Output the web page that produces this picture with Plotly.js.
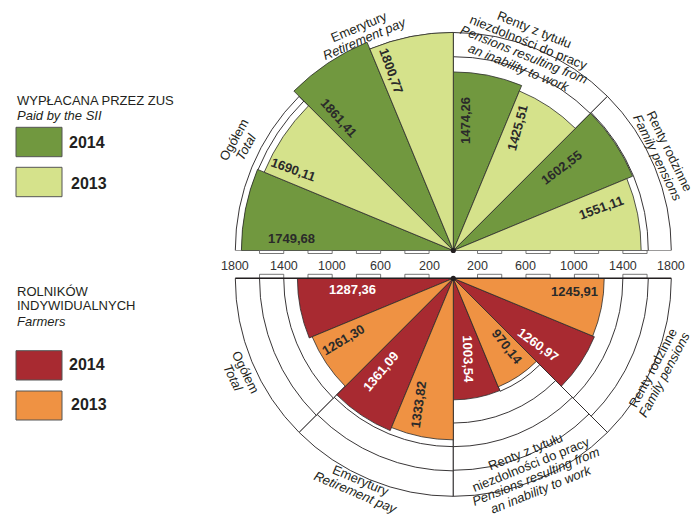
<!DOCTYPE html>
<html>
<head>
<meta charset="utf-8">
<script src="https://cdn.plot.ly/plotly-3.0.1.min.js"></script>
<style>html,body{margin:0;padding:0;background:#fff}#chart{width:696px;height:518px}</style>
</head>
<body>
<div id="chart"></div>
<script>
// ---------- data ----------
const categoriesPl = ['Ogółem', 'Emerytury', 'Renty z tytułu<br>niezdolności do pracy', 'Renty rodzinne'];
const categoriesEn = ['Total', 'Retirement pay', 'Pensions resulting from<br>an inability to work', 'Family pensions'];
const years = ['2014', '2013'];
const zus2014 = [1749.68, 1861.41, 1474.26, 1602.55];
const zus2013 = [1690.11, 1800.77, 1425.51, 1551.11];
const farm2014 = [1287.36, 1361.09, 1003.54, 1260.97];
const farm2013 = [1261.30, 1333.82, 970.14, 1245.91];
const tickValues = [200, 600, 1000, 1400, 1800];
const rulerBands = [[200, 400], [600, 800], [1000, 1200], [1400, 1600]];
// decorative guide rings per category (outer first)
const ringsTop = [[1800, 1745], [1800], [1800, 1600], [1800, 1610]];
const ringsBottom = [[1800, 1600, 1400], [1800, 1590, 1390], [1800, 1585, 1390, 1195], [1800, 1610, 1400]];

// ---------- geometry / style ----------
const W = 696, H = 518;
const PX = 218 / 1800;          // pixels per unit
const RMAX = 1870;
const R = RMAX * PX;
const CX = 453.3, CYT = 250.5, CYB = 278.3;
const FONT = 'Liberation Sans, Arial, sans-serif';
const INK = '#231f20';
const C = {zus14: '#71983f', zus13: '#d5e28b', farm14: '#a82a31', farm13: '#ef9243'};
const LS = 13.6; // category label line spacing (px)

const thetaTop = (i, k) => 180 - 45 * i - 11.25 - 22.5 * k;
const thetaBot = (i, k) => 180 + 45 * i + 11.25 + 22.5 * k;

function ringTrace(rings, centerFn, subplot, extra) {
  let items = [];
  rings.forEach((list, i) => list.forEach(r => items.push({r: r, t: centerFn(i), w: 45})));
  (extra || []).forEach(e => items.push(e));
  items.sort((a, b) => b.r - a.r);
  return {
    type: 'barpolar', subplot: subplot,
    r: items.map(d => d.r), theta: items.map(d => d.t), width: items.map(d => d.w),
    marker: {color: '#ffffff', line: {color: INK, width: 0.9}},
    hoverinfo: 'skip', showlegend: false
  };
}
function barTrace(vals, thetaFn, k, color, subplot) {
  return {
    type: 'barpolar', subplot: subplot,
    r: vals, theta: vals.map((v, i) => thetaFn(i, k)), width: vals.map(() => 22.5),
    marker: {color: color, line: {color: '#2b2b2b', width: 0.8}},
    hoverinfo: 'skip', showlegend: false
  };
}

const traces = [
  {type: 'scatter', x: [], y: [], xaxis: 'x', yaxis: 'y', hoverinfo: 'skip', showlegend: false},
  {type: 'scatter', x: [], y: [], xaxis: 'x', yaxis: 'y2', hoverinfo: 'skip', showlegend: false},
  ringTrace(ringsTop, i => 157.5 - 45 * i, 'polar'),
  ringTrace(ringsBottom, i => 202.5 + 45 * i, 'polar2', [{r: 1010, t: thetaBot(2, 1), w: 22.5}]),
  barTrace(zus2014, thetaTop, 0, C.zus14, 'polar'),
  barTrace(zus2013, thetaTop, 1, C.zus13, 'polar'),
  barTrace(farm2014, thetaBot, 0, C.farm14, 'polar2'),
  barTrace(farm2013, thetaBot, 1, C.farm13, 'polar2')
];

// ---------- annotations ----------
const ann = [];
const fmt = v => v.toFixed(2).replace('.', ',');
function polarAnn(text, rpx, ang, ta, yref, font, offPx) {
  const a = ang * Math.PI / 180;
  let xu = rpx / PX * Math.cos(a), yu = rpx / PX * Math.sin(a);
  if (offPx) { xu += offPx[0] / PX; yu -= offPx[1] / PX; }
  ann.push({xref: 'x', yref: yref, x: xu, y: yu, text: text,
    showarrow: false, textangle: ta, font: font, xanchor: 'center', yanchor: 'middle'});
}
const valFont = col => ({family: FONT, size: 13, color: col});
// value label placement [r px, angle, textangle]
const posZus14 = [[162.3, 175.6, 0], [175.6, 131.0, 48], [131.0, 84.9, -90], [136.4, 37.5, -37]];
const posZus13 = [[179.4, 153.3, 20], [189.7, 108.9, 70], [138.0, 62.5, -75], [154.3, 16.2, -20]];
const posFarm14 = [[101.5, 186.6, 0], [117.9, 231.9, -50], [81.9, 280.0, 88], [107.2, 322.2, 36]];
const posFarm13 = [[125.5, 209.4, -31], [130.9, 254.6, -82], [87.8, 308.5, 52], [122.4, 353.8, 0]];
zus2014.forEach((v, i) => polarAnn('<b>' + fmt(v) + '</b>', posZus14[i][0], posZus14[i][1], posZus14[i][2], 'y', valFont('#2a2a2a')));
zus2013.forEach((v, i) => polarAnn('<b>' + fmt(v) + '</b>', posZus13[i][0], posZus13[i][1], posZus13[i][2], 'y', valFont('#2a2a2a')));
farm2014.forEach((v, i) => polarAnn('<b>' + fmt(v) + '</b>', posFarm14[i][0], posFarm14[i][1], posFarm14[i][2], 'y2', valFont('#ffffff')));
farm2013.forEach((v, i) => polarAnn('<b>' + fmt(v) + '</b>', posFarm13[i][0], posFarm13[i][1], posFarm13[i][2], 'y2', valFont('#2a2a2a')));

// category labels, one annotation per line
const catFont = {family: FONT, size: 13, color: INK};
const catTop = [[239, 153.2, -61], [236.4, 112.7, -23], [214.9, 70.1, 22], [231.5, 24.6, 64]];
const catBot = [[234.4, 204.4, 64], [229, 245.5, 23], [208, 292.6, -22], [225, 335.6, -62]];
function catLabel(i, pos, yref) {
  const lines = categoriesPl[i].split('<br>').concat(categoriesEn[i].split('<br>').map(s => '<i>' + s + '</i>'));
  const n = lines.length, ta = pos[2] * Math.PI / 180;
  lines.forEach((txt, k) => {
    const d = (k - (n - 1) / 2) * LS;
    polarAnn(txt, pos[0], pos[1], pos[2], yref, catFont, [-Math.sin(ta) * d, Math.cos(ta) * d]);
  });
}
categoriesPl.forEach((pl, i) => { catLabel(i, catTop[i], 'y'); catLabel(i, catBot[i], 'y2'); });

// radial scale labels
tickValues.forEach(v => {
  [-1, 1].forEach(s => ann.push({xref: 'x', yref: 'y', x: s * v, y: -(266 - CYT) / PX, text: String(v),
    showarrow: false, font: {family: FONT, size: 12.5, color: '#333'}, xanchor: 'center', yanchor: 'middle'}));
});

// legend texts
const px2x = p => p / W, py2y = p => (H - p) / H;
function legText(text, x, y, size) {
  ann.push({xref: 'paper', yref: 'paper', x: px2x(x), y: py2y(y), text: text, showarrow: false,
    xanchor: 'left', yanchor: 'middle', font: {family: FONT, size: size, color: INK}});
}
legText('WYPŁACANA PRZEZ ZUS', 15, 100.5, 13);
legText('<i>Paid by the SII</i>', 15, 115.5, 13);
legText('<b>' + years[0] + '</b>', 67, 142.5, 16);
legText('<b>' + years[1] + '</b>', 69, 183.3, 16);
legText('ROLNIKÓW', 15, 291, 13);
legText('INDYWIDUALNYCH', 15, 306, 13);
legText('<i>Farmers</i>', 15, 321, 13);
legText('<b>' + years[0] + '</b>', 67, 364.5, 16);
legText('<b>' + years[1] + '</b>', 69, 404.5, 16);

// ---------- shapes ----------
const shapes = [];
rulerBands.forEach(b => {
  [-1, 1].forEach(s => {
    shapes.push({type: 'rect', xref: 'x', yref: 'y', x0: s * b[0], x1: s * b[1], y0: 0, y1: -3 / PX,
      fillcolor: '#fff', line: {color: '#555', width: 0.8}, layer: 'above'});
    shapes.push({type: 'rect', xref: 'x', yref: 'y2', x0: s * b[0], x1: s * b[1], y0: 0, y1: 4 / PX,
      fillcolor: '#fff', line: {color: '#555', width: 0.8}, layer: 'above'});
  });
});
shapes.push({type: 'line', xref: 'x', yref: 'y2', x0: -1800, x1: 1800, y0: 0, y1: 0, line: {color: INK, width: 1.6}});
[['y', CYT], ['y2', CYB]].forEach(d => shapes.push({type: 'circle', xref: 'x', yref: d[0],
  x0: -2.6 / PX, x1: 2.6 / PX, y0: -2.6 / PX, y1: 2.6 / PX, fillcolor: INK, line: {width: 0}}));
function legBox(y0, y1, color) {
  shapes.push({type: 'rect', xref: 'paper', yref: 'paper', x0: px2x(16), x1: px2x(62), y0: py2y(y1), y1: py2y(y0),
    fillcolor: color, line: {color: '#555', width: 1}});
}
legBox(127.3, 156.7, C.zus14);
legBox(167.3, 196.7, C.zus13);
legBox(350.7, 380, C.farm14);
legBox(391, 420, C.farm13);

// ---------- layout ----------
const xDom = [(CX - R) / W, (CX + R) / W];
const polarBase = (sector, ydom) => ({
  domain: {x: xDom, y: ydom}, sector: sector, bgcolor: 'rgba(0,0,0,0)', barmode: 'overlay', hole: 0,
  radialaxis: {range: [0, RMAX], visible: false},
  angularaxis: {visible: false, direction: 'counterclockwise', rotation: 0}
});
const layout = {
  width: W, height: H, margin: {l: 0, r: 0, t: 0, b: 0},
  paper_bgcolor: '#fff', plot_bgcolor: 'rgba(0,0,0,0)', showlegend: false,
  polar: polarBase([0, 180], [(H - CYT) / H, (H - CYT + R) / H]),
  polar2: polarBase([180, 360], [(H - CYB - R) / H, (H - CYB) / H]),
  xaxis: {range: [-CX / PX, (W - CX) / PX], domain: [0, 1], visible: false, fixedrange: true},
  yaxis: {range: [-(H - CYT) / PX, CYT / PX], domain: [0, 1], visible: false, fixedrange: true},
  yaxis2: {range: [-(H - CYB) / PX, CYB / PX], overlaying: 'y', visible: false, fixedrange: true},
  annotations: ann, shapes: shapes
};
Plotly.newPlot('chart', traces, layout, {staticPlot: true, displayModeBar: false});
</script>
</body>
</html>
